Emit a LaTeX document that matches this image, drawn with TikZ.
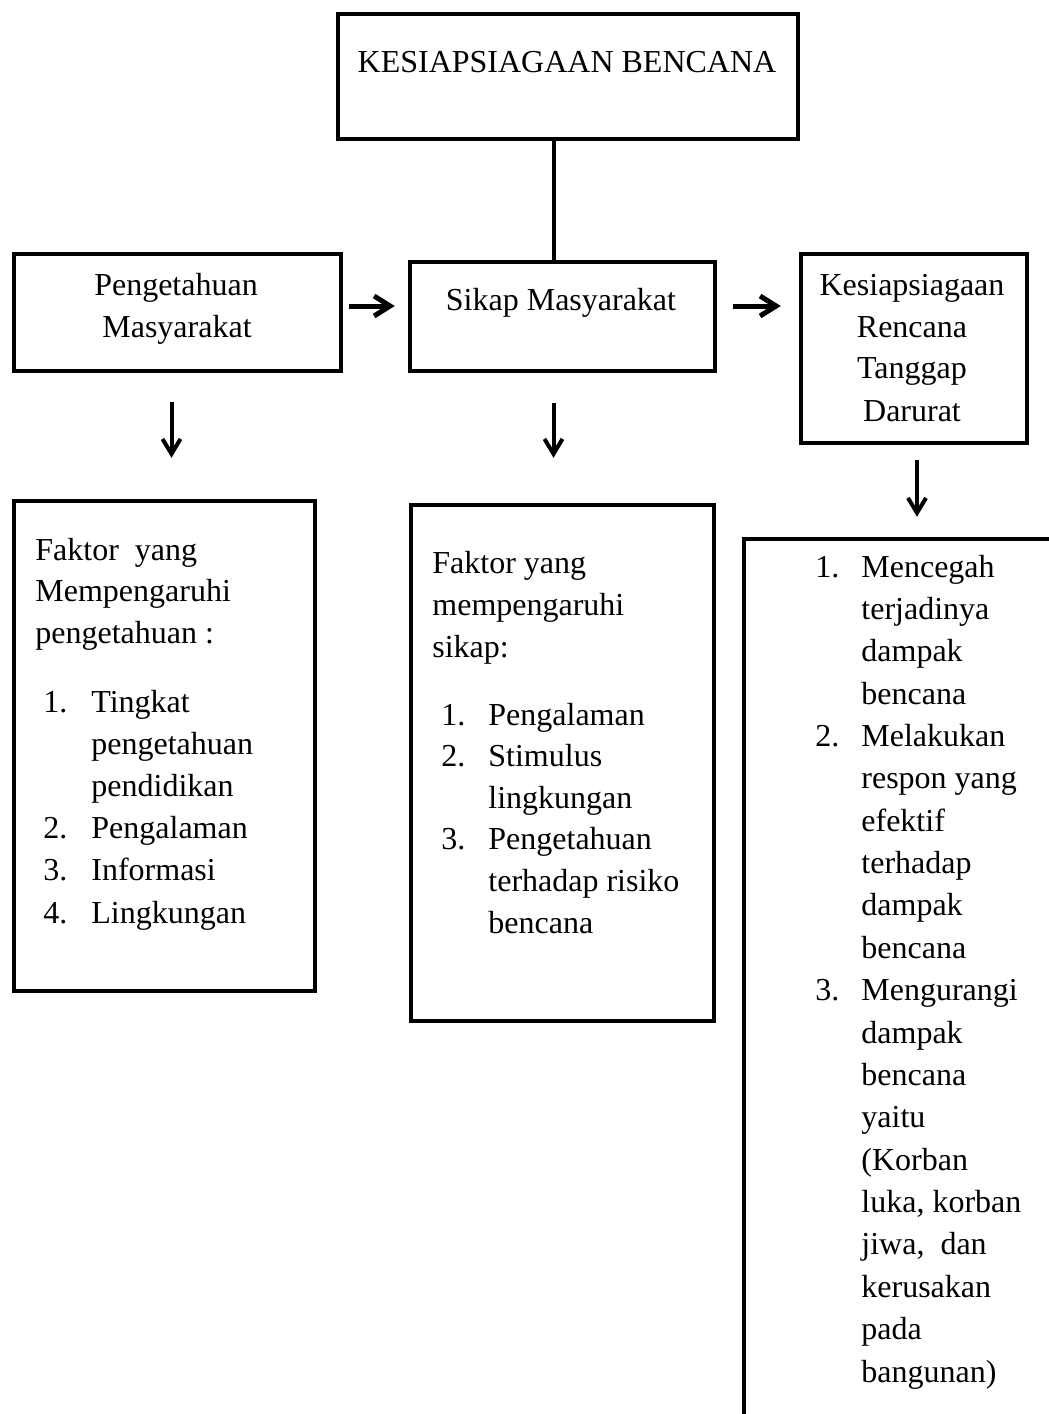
\documentclass[tikz,border=0pt]{standalone}
\usepackage{fontspec}
\setmainfont{Liberation Serif}
\usetikzlibrary{arrows.meta,calc,fit}
\begin{document}
\begin{tikzpicture}[x=0.5pt,y=-0.5pt,
  box/.style={draw, line width=2.2pt, inner sep=0pt, rectangle},
  txt/.style={inner sep=0pt, font=\fontsize{16}{20}\selectfont, anchor=base},
  ltxt/.style={txt, anchor=base west},
  harrow/.style={line width=2.5pt, -{Straight Barb[length=8pt,width=10pt]}},
  varrow/.style={line width=2pt, -{Straight Barb[length=7.5pt,width=9pt]}},
  link/.style={line width=1.6pt}]
\useasboundingbox (0,0) rectangle (1049,1414);
\clip (0,0) rectangle (1049,1414);
\fill[white] (0,0) rectangle (1049,1414);

% boxes
\node[box, fit={(338,14) (798,139)}] (top) {};
\node[box, fit={(14,254) (341,371)}] (peng) {};
\node[box, fit={(410,262) (715,371)}] (sikap) {};
\node[box, fit={(801,254) (1027,443)}] (kes) {};
\node[box, fit={(14,501) (315,991)}] (fL) {};
\node[box, fit={(411,505) (714,1021)}] (fM) {};
\node[box, fit={(744,539) (1070,1440)}] (fR) {};

% connectors
\draw[link] ($(top.south)+(-14,0)$) -- ($(sikap.north)+(-8.5,0)$);
\draw[harrow] ($(peng.east)+(6,-6.5)$) -- ($(sikap.west)+(-13,-10.5)$);
\draw[harrow] ($(sikap.east)+(16,-10.5)$) -- ($(kes.west)+(-18,-42.5)$);
\draw[varrow] ($(peng.south)+(-6,29)$) -- ($(fL.north)+(7,-41)$);
\draw[varrow] ($(sikap.south)+(-9,30)$) -- ($(fM.north)+(-9,-45)$);
\draw[varrow] ($(kes.south)+(3,15)$) -- ($(fR.north)+(10,-20)$);

% upper texts
\node[txt] (tTop) at (567,72) {KESIAPSIAGAAN BENCANA};
\node[txt] (tP1) at (176,295) {Pengetahuan};
\node[txt] (tP2) at (177,337) {Masyarakat};
\node[txt] (tS) at (561,310) {Sikap Masyarakat};
\node[txt] (tK1) at (912,295) {Kesiapsiagaan};
\node[txt] (tK2) at (912,337) {Rencana};
\node[txt] (tK3) at (912,378) {Tanggap};
\node[txt] (tK4) at (912,421) {Darurat};

% left box
\foreach \t [count=\i from 0] in {{Faktor\ \ yang},{Mempengaruhi},{pengetahuan :}}
  \node[ltxt] (lh\i) at (35,{560+41.5*\i}) {\t};
\foreach \t [count=\i from 0] in {{Tingkat},{pengetahuan},{pendidikan},{Pengalaman},{Informasi},{Lingkungan}}
  \node[ltxt] (ll\i) at (91,{712+42.2*\i}) {\t};
\node[ltxt] (ln1) at (43,712) {1.};
\node[ltxt] (ln2) at (43,838.6) {2.};
\node[ltxt] (ln3) at (43,880.8) {3.};
\node[ltxt] (ln4) at (43,923) {4.};

% middle box
\foreach \t [count=\i from 0] in {{Faktor yang},{mempengaruhi},{sikap:}}
  \node[ltxt] (mh\i) at (432,{573+42*\i}) {\t};
\foreach \t [count=\i from 0] in {{Pengalaman},{Stimulus},{lingkungan},{Pengetahuan},{terhadap risiko},{bencana}}
  \node[ltxt] (ml\i) at (488,{725+41.6*\i}) {\t};
\node[ltxt] (mn1) at (441,725) {1.};
\node[ltxt] (mn2) at (441,766.6) {2.};
\node[ltxt] (mn3) at (441,849.8) {3.};

% right box
\foreach \t [count=\i from 0] in {{Mencegah},{terjadinya},{dampak},{bencana},{Melakukan},{respon yang},{efektif},{terhadap},{dampak},{bencana},{Mengurangi},{dampak},{bencana},{yaitu},{(Korban},{luka, korban},{jiwa,\ \ dan},{kerusakan},{pada},{bangunan)}}
  \node[ltxt] (rl\i) at (861,{577+42.37*\i}) {\t};
\node[ltxt] (rn1) at (815,577) {1.};
\node[ltxt] (rn2) at (815,746.5) {2.};
\node[ltxt] (rn3) at (815,1000.7) {3.};
\end{tikzpicture}
\end{document}
